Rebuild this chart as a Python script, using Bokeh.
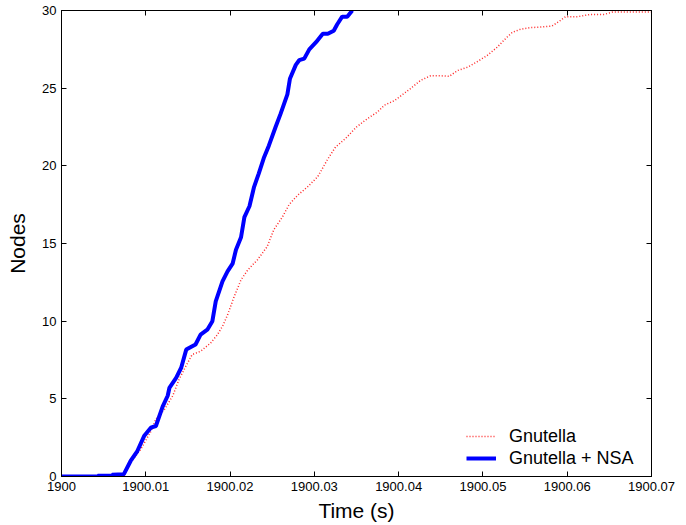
from bokeh.plotting import figure
from bokeh.models import Range1d, FixedTicker, CustomJSTickFormatter, LinearAxis, Legend, LegendItem
from bokeh.embed import file_html
from bokeh.resources import INLINE

# ---- data ----
nsa_time = [1900.0, 1900.0043, 1900.0043, 1900.0060, 1900.0060, 1900.0074, 1900.0082, 1900.0090,
            1900.0098, 1900.0106, 1900.0112, 1900.0120, 1900.0126, 1900.0128, 1900.0136, 1900.0142,
            1900.0148, 1900.0159, 1900.0165, 1900.0173, 1900.0179, 1900.0183, 1900.0191, 1900.0197,
            1900.0203, 1900.0207, 1900.0213, 1900.0217, 1900.0223, 1900.02285, 1900.0234, 1900.0240,
            1900.0246, 1900.0254, 1900.0260, 1900.0268, 1900.0271, 1900.0278, 1900.0282, 1900.0288,
            1900.0294, 1900.0302, 1900.0310, 1900.0316, 1900.0323, 1900.0327, 1900.0333, 1900.0339,
            1900.0345]
nsa_nodes = [0, 0, 0.05, 0.05, 0.12, 0.15, 1.0, 1.64,
             2.6, 3.14, 3.25, 4.5, 5.2, 5.7, 6.35, 7.0,
             8.17, 8.5, 9.13, 9.45, 10.0, 11.27, 12.56, 13.2,
             13.7, 14.6, 15.4, 16.7, 17.4, 18.65, 19.5, 20.5,
             21.3, 22.5, 23.36, 24.6, 25.6, 26.5, 26.8, 26.9,
             27.5, 27.96, 28.5, 28.5, 28.7, 29.1, 29.6, 29.6,
             30.0]

gnu_time = [1900.0, 1900.0074, 1900.0076, 1900.0082, 1900.0094, 1900.0106, 1900.0112, 1900.0122,
            1900.0132, 1900.01395, 1900.01475, 1900.0155, 1900.0165, 1900.0177, 1900.0185, 1900.0191,
            1900.0197, 1900.0205, 1900.0213, 1900.0221, 1900.02325, 1900.0244, 1900.0252, 1900.0262,
            1900.0270, 1900.0280, 1900.0292, 1900.0304, 1900.03155, 1900.0325, 1900.0337, 1900.0350,
            1900.0363, 1900.0375, 1900.0383, 1900.0395, 1900.04025, 1900.0414, 1900.0426, 1900.0438,
            1900.0450, 1900.0460, 1900.0470, 1900.0482, 1900.0493, 1900.0505, 1900.0517, 1900.0527,
            1900.0535, 1900.0545, 1900.0557, 1900.0572, 1900.0582, 1900.0592, 1900.0598, 1900.0612,
            1900.0628, 1900.0644, 1900.0654, 1900.0700]
gnu_nodes = [0, 0, 0.26, 0.9, 1.75, 2.9, 3.7, 4.3,
             5.2, 6.25, 7.1, 7.85, 8.06, 8.6, 9.13, 9.67,
             10.4, 11.6, 12.66, 13.3, 13.95, 14.8, 15.9, 16.7,
             17.5, 18.1, 18.65, 19.3, 20.4, 21.2, 21.76, 22.5,
             23.04, 23.47, 23.9, 24.2, 24.5, 24.97, 25.5, 25.8,
             25.8, 25.76, 26.14, 26.35, 26.7, 27.1, 27.64, 28.2,
             28.6, 28.8, 28.9, 28.95, 29.0, 29.36, 29.6, 29.6,
             29.75, 29.75, 29.9, 29.9]

x_ticks = [1900.0, 1900.01, 1900.02, 1900.03, 1900.04, 1900.05, 1900.06, 1900.07]
y_ticks = [0, 5, 10, 15, 20, 25, 30]
series_names = ["Gnutella", "Gnutella + NSA"]

FONT = "Liberation Sans"

p = figure(width=680, height=524, output_backend="svg", toolbar_location=None,
           x_range=Range1d(1900.0, 1900.07), y_range=Range1d(0, 30),
           min_border_left=61, min_border_right=29, min_border_top=10, min_border_bottom=47)
p.background_fill_color = "white"
p.border_fill_color = "white"
p.outline_line_color = "black"
p.outline_line_width = 1
p.grid.visible = False

r_gnu = p.line(gnu_time, gnu_nodes, line_color="#ff0000", line_width=1.5, line_dash="1 2", line_alpha=0.85)
r_nsa = p.line(nsa_time, nsa_nodes, line_color="#0000ff", line_width=4)

def style_axis(ax, label_size="13px"):
    ax.axis_line_color = "black"
    ax.major_tick_line_color = "black"
    ax.major_tick_in = 5
    ax.major_tick_out = 0
    ax.minor_tick_line_color = None
    ax.major_label_text_font = FONT
    ax.major_label_text_font_size = label_size
    ax.major_label_text_color = "black"
    ax.axis_label_text_font = FONT
    ax.axis_label_text_font_size = "21px"
    ax.axis_label_text_font_style = "normal"
    ax.axis_label_text_color = "black"

xfmt = CustomJSTickFormatter(code="return Math.abs(tick - 1900) < 1e-9 ? '1900' : tick.toFixed(2);")
xa = p.xaxis[0]
xa.ticker = FixedTicker(ticks=x_ticks)
xa.formatter = xfmt
xa.axis_label = "Time (s)"
style_axis(xa)
xa.major_label_standoff = 5
xa.axis_label_standoff = 5

ya = p.yaxis[0]
ya.ticker = FixedTicker(ticks=y_ticks)
ya.axis_label = "Nodes"
style_axis(ya)
ya.major_label_standoff = 5
ya.axis_label_standoff = 10

blank = CustomJSTickFormatter(code="return '';")
ra = LinearAxis(ticker=FixedTicker(ticks=y_ticks), formatter=blank)
style_axis(ra)
ra.major_label_standoff = 0
p.add_layout(ra, "right")
ta = LinearAxis(ticker=FixedTicker(ticks=x_ticks), formatter=blank)
style_axis(ta)
ta.major_label_standoff = 0
p.add_layout(ta, "above")

legend = Legend(items=[LegendItem(label=series_names[0], renderers=[r_gnu]),
                       LegendItem(label=series_names[1], renderers=[r_nsa])],
                location=(402, 4))
legend.label_text_font = FONT
legend.label_text_font_size = "18px"
legend.label_text_color = "black"
legend.border_line_alpha = 0
legend.background_fill_alpha = 0
legend.glyph_width = 30
legend.glyph_height = 22
legend.label_height = 22
legend.label_standoff = 13
legend.spacing = 0
legend.padding = 3
legend.margin = 0
p.add_layout(legend, "center")

open("out.html", "w").write(file_html(p, INLINE))
